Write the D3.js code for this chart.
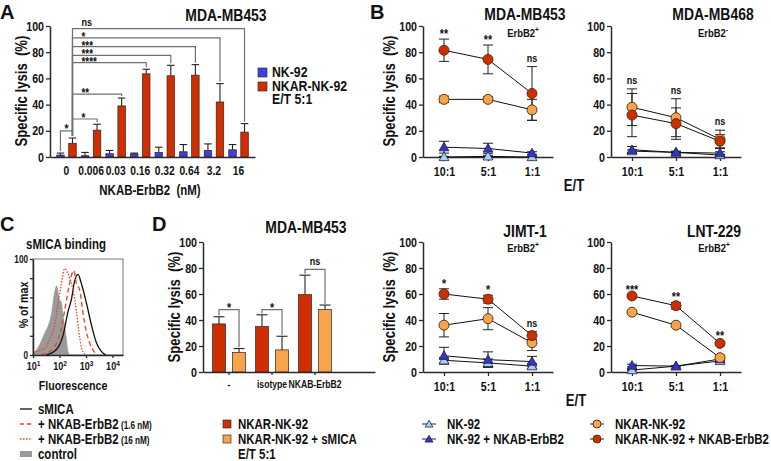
<!DOCTYPE html>
<html><head><meta charset="utf-8">
<script src="https://cdn.jsdelivr.net/npm/d3@7"></script>
<style>
body{margin:0;background:#fff}
svg{font-family:"Liberation Sans",Arial,Helvetica,sans-serif;font-weight:bold}
text{fill:#111}
</style></head><body>
<svg id="c" width="771" height="461"></svg>
<script>
// ---------------- DATA ----------------
// Panel A
const aGroups = ["0","0.006","0.03","0.16","0.32","0.64","3.2","16"];
const aSeries = ["NK-92","NKAR-NK-92"];
const aNK92 = [1.5,1,2.5,2.5,3.5,4,5,5.5];
const aNK92Err = [1.5,2.5,2.5,0.5,4,5.5,5,4];
const aNKAR = [10.5,20.5,39,63.5,62,62.5,42,19];
const aNKARErr = [4,4.5,6,3.5,8,8,14,6.5];
const aSigTargets = ["0.006","0.03","0.16","0.32","0.64","3.2","16"];
const aSigLabels = ["*","**","****","***","***","*","ns"];
const aSigLevels = [29,48,72,77.6,84.3,91,98];
const aSigBase = {label:"*", level:20};
const yTicks = [0,20,40,60,80,100];

// Line panels (E/T ratios)
const etRatios = ["10:1","5:1","1:1"];
const lineSeries = ["NK-92","NK-92 + NKAB-ErbB2","NKAR-NK-92","NKAR-NK-92 + NKAB-ErbB2"];
// MDA-MB453
const mb453NK = [0,0.5,0],      mb453NKErr = [0.5,0.5,0.5];
const mb453NKAB = [7.5,6.5,3],  mb453NKABErr = [4.5,4,1];
const mb453AR = [44,44,36],     mb453ARErr = [2.5,2,8];
const mb453ARAB = [81.5,74.5,48.5], mb453ARABErr = [8.5,11,20.5];
const mb453Sig = ["**","**","ns"];
// MDA-MB468
const mb468NK = [4.5,3.5,1.5],  mb468NKErr = [1,0.5,0.5];
const mb468NKAB = [5.5,3.5,3],  mb468NKABErr = [2.5,1,1];
const mb468AR = [38,30,13.5],   mb468ARErr = [14,14.5,7];
const mb468ARAB = [32,25.5,12], mb468ARABErr = [16.5,12,5];
const mb468Sig = ["ns","ns","ns"];
// JIMT-1
const jimtNK = [9,7,4.5],       jimtNKErr = [2,3,2];
const jimtNKAB = [12.5,9.5,8],  jimtNKABErr = [6.5,6,4];
const jimtAR = [36,41,22.5],    jimtARErr = [9,8.5,6];
const jimtARAB = [60,56,28],    jimtARABErr = [4,3,3];
const jimtSig = ["*","*","ns"];
// LNT-229
const lntNK = [1.5,4.5,8.5],    lntNKErr = [0.5,0.5,1];
const lntNKAB = [5,4.5,10],     lntNKABErr = [1,0.5,1];
const lntAR = [46,36,11],       lntARErr = [0.5,1,2];
const lntARAB = [58.5,51,22],   lntARABErr = [1,2.5,1.5];
const lntSig = ["***","**","**"];

// Panel C (fluorescence, % of max)
const cCtrlX = [10,18,28,37,50,66,78,98,117,138,174,209,245];
const cCtrlY = [1,11,23,30,43,66,72,58,55,40,21,4,0];
const c16X = [10,25,44,66,89,117,158,182,245,324,437,537,661,891];
const c16Y = [3,6,17,32,55,74,90,88,80,68,45,25,9,1];
const c1p6X = [20,30,44,102,158,209,282,347,437,575,759,1023,1445,2089,2818];
const c1p6Y = [0,2,4,21,47,66,83,88,74,68,45,25,11,3,0];
const cSmicaX = [32,78,138,209,282,372,501,661,1023,1585,2455,3715,5754];
const cSmicaY = [0,6,21,45,58,77,84,75,55,32,13,4,0];
const cXTicks = [10,100,1000,10000];
const cXExp = ["1","2","3","4"];

// Panel D
const dGroups = ["-","isotype","NKAB-ErbB2"];
const dSeries = ["NKAR-NK-92","NKAR-NK-92 + sMICA"];
const dNKAR = [37,35,59.5];
const dNKARErr = [5.5,9,15];
const dSMICA = [15,17,48];
const dSMICAErr = [3,10.5,3.5];
const dSigLabels = ["*","*","ns"];
const dSigLevels = [48,48,79];

// ---------------- STYLE ----------------
const C = {blue:"#3f3fe0", red:"#cf2e00", orange:"#f8a44c", lblue:"#a9cff0", dblue:"#3434c8",
           grey:"#9a9a9a", axis:"#2a2a2a", brk:"#707070", dashed:"#ee4422"};
const CONDENSE = 0.82;

const svg = d3.select("#c");

function styleAxis(g, fs){
  g.select(".domain").attr("stroke",C.axis).attr("stroke-width",1.5);
  g.selectAll(".tick line").attr("stroke",C.axis).attr("stroke-width",1.3);
  g.selectAll(".tick text").attr("fill","#111").attr("font-size",fs).attr("font-weight","bold")
   .attr("font-family",null);
}
function txt(x,y,s,fs,anchor){
  return svg.append("text").attr("x",x).attr("y",y).attr("font-size",fs)
    .attr("text-anchor",anchor||"start").text(s);
}
function yLabel(x,y,s,fs){
  svg.append("text").attr("transform",`translate(${x},${y}) rotate(-90)`)
    .attr("text-anchor","middle").attr("dy","0.35em").attr("font-size",fs)
    .style("white-space","pre").text(s);
}
function subtitle(x,y,sup){
  const t = svg.append("text").attr("x",x).attr("y",y).attr("font-size",11.5).attr("text-anchor","middle");
  t.append("tspan").text("ErbB2");
  t.append("tspan").attr("font-size",8).attr("dy",-4.5).text(sup);
}
function letter(x,y,s){ txt(x,y,s,20).classed("nc",true); }

// ---------------- PANEL A ----------------
letter(0,19,"A");
txt(226,21,"MDA-MB453",17,"middle");
const xA = d3.scaleBand().domain(aGroups).range([50,255]).paddingInner(0).paddingOuter(0.17);
const xA1 = d3.scaleBand().domain(aSeries).range([0,xA.bandwidth()]).paddingInner(0.375).paddingOuter(0.21);
const yA = d3.scaleLinear().domain([0,100]).range([157,26]);
const gA = svg.append("g");
const aVals = [aNK92,aNKAR], aErrs=[aNK92Err,aNKARErr], aCols=[C.blue,C.red];
aSeries.forEach((s,si)=>{
  const gs = gA.append("g");
  aGroups.forEach((g,i)=>{
    const x = xA(g)+xA1(s), w = xA1.bandwidth(), v=aVals[si][i], e=aErrs[si][i];
    gs.append("line").attr("x1",x+w/2).attr("x2",x+w/2).attr("y1",yA(v)).attr("y2",yA(v+e)).attr("stroke","#222").attr("stroke-width",1.1);
    gs.append("line").attr("x1",x).attr("x2",x+w).attr("y1",yA(v+e)).attr("y2",yA(v+e)).attr("stroke","#222").attr("stroke-width",1.1);
    gs.append("rect").attr("x",x).attr("y",yA(v)).attr("width",w).attr("height",yA(0)-yA(v))
      .attr("fill",aCols[si]).attr("stroke","#3a2020").attr("stroke-width",0.7);
  });
});
const gAy = gA.append("g").attr("transform","translate(50,0)")
  .call(d3.axisLeft(yA).tickValues(yTicks).tickSize(4).tickPadding(2).tickSizeOuter(0));
styleAxis(gAy,13);
const gAx = gA.append("g").attr("transform","translate(0,157)")
  .call(d3.axisBottom(xA).tickSize(0).tickPadding(9).tickSizeOuter(0));
styleAxis(gAx,12.5);
yLabel(21,91,"Specific lysis  (%)",16);
svg.append("text").attr("x",150).attr("y",195).attr("text-anchor","middle").attr("font-size",14)
  .style("white-space","pre").text("NKAB-ErbB2  (nM)");
// brackets
const redCx = g => xA(g)+xA1("NKAR-NK-92")+xA1.bandwidth()/2;
const blueCx = g => xA(g)+xA1("NK-92")+xA1.bandwidth()/2;
const redTop = g => { const i=aGroups.indexOf(g); return aNKAR[i]+aNKARErr[i]; };
const r0 = redCx("0");
aSigTargets.forEach((t,i)=>{
  const lv = aSigLevels[i];
  gA.append("path").attr("d",`M${r0},${yA(redTop("0")+1.5)}V${yA(lv)}H${redCx(t)}V${yA(redTop(t)+1.5)}`)
    .attr("fill","none").attr("stroke",C.brk).attr("stroke-width",1.2);
  const isNs = aSigLabels[i]==="ns";
  gA.append("text").attr("x",r0+9).attr("y",yA(lv)+(isNs?-2.5:3)).attr("font-size",isNs?11:12).text(aSigLabels[i]);
});
gA.append("path").attr("d",`M${blueCx("0")},${yA(aNK92[0]+aNK92Err[0]+1.5)}V${yA(aSigBase.level)}H${r0}V${yA(redTop("0")+1.5)}`)
  .attr("fill","none").attr("stroke",C.brk).attr("stroke-width",1.2);
gA.append("text").attr("x",(blueCx("0")+r0)/2).attr("y",yA(aSigBase.level)+2.5).attr("text-anchor","middle").attr("font-size",12.5).text(aSigBase.label);
// legend A
[[C.blue,"NK-92"],[C.red,"NKAR-NK-92"]].forEach((d,i)=>{
  svg.append("rect").attr("x",258).attr("y",68+i*14).attr("width",9).attr("height",9).attr("fill",d[0]).attr("stroke","#333").attr("stroke-width",0.7);
  txt(272,77+i*14,d[1],15);
});
txt(272,104,"E/T 5:1",15);

// ---------------- LINE PANELS ----------------
function drawMarker(g,cx,cy,shape,col,r){
  if(shape==="circ"){
    g.append("circle").attr("cx",cx).attr("cy",cy).attr("r",r).attr("fill",col).attr("stroke","#4a2a10").attr("stroke-width",0.9);
  } else {
    g.append("path").attr("d",d3.symbol(d3.symbolTriangle,r*r*1.7)()).attr("transform",`translate(${cx},${cy+0.8})`)
      .attr("fill",col).attr("stroke","#22224a").attr("stroke-width",0.8);
  }
}
function linePanel(ax, y0, y100, series, stars){
  const x = d3.scalePoint().domain(etRatios).range([ax, ax+130]).padding(0.477);
  const y = d3.scaleLinear().domain([0,100]).range([y0,y100]);
  const g = svg.append("g");
  const gy = g.append("g").attr("transform",`translate(${ax},0)`)
    .call(d3.axisLeft(y).tickValues(yTicks).tickSize(4).tickPadding(2).tickSizeOuter(0));
  styleAxis(gy,13);
  const gx = g.append("g").attr("transform",`translate(0,${y0})`)
    .call(d3.axisBottom(x).tickSize(4).tickPadding(6).tickSizeOuter(0));
  styleAxis(gx,13);
  const styles = [
    {col:C.lblue, shape:"tri"},{col:C.dblue, shape:"tri"},
    {col:C.orange, shape:"circ"},{col:C.red, shape:"circ"}];
  series.forEach(s=>{
    etRatios.forEach((r,i)=>{
      const cx=x(r), lo=y(Math.max(0,s.v[i]-s.e[i])), hi=y(s.v[i]+s.e[i]);
      g.append("line").attr("x1",cx).attr("x2",cx).attr("y1",lo).attr("y2",hi).attr("stroke","#222").attr("stroke-width",1);
      [lo,hi].forEach(yy=>g.append("line").attr("x1",cx-5).attr("x2",cx+5).attr("y1",yy).attr("y2",yy).attr("stroke","#222").attr("stroke-width",1));
    });
  });
  const line = d3.line().x((d,i)=>x(etRatios[i])).y(d=>y(d));
  series.forEach(s=>{
    g.append("path").attr("d",line(s.v)).attr("fill","none").attr("stroke","#111").attr("stroke-width",1);
  });
  series.forEach((s,si)=>{
    const st = styles[si];
    etRatios.forEach((r,i)=> drawMarker(g, x(r), y(s.v[i]), st.shape, st.col, 5));
  });
  etRatios.forEach((r,i)=>{
    const top = d3.max(series, s=>s.v[i]+s.e[i]);
    const isNs = stars[i]==="ns";
    g.append("text").attr("x",x(r)).attr("y",y(top)-(isNs?5:1)).attr("text-anchor","middle")
      .attr("font-size",isNs?11:13).text(stars[i]);
  });
}
const S = (v,e)=>({v,e});
letter(370,19,"B");
txt(525,20,"MDA-MB453",17,"middle"); subtitle(523,37,"+");
linePanel(423,157,26,[S(mb453NK,mb453NKErr),S(mb453NKAB,mb453NKABErr),S(mb453AR,mb453ARErr),S(mb453ARAB,mb453ARABErr)],mb453Sig);
yLabel(389,91,"Specific lysis  (%)",16);
txt(713,20,"MDA-MB468",17,"middle"); subtitle(713,37,"-");
linePanel(611,157,26,[S(mb468NK,mb468NKErr),S(mb468NKAB,mb468NKABErr),S(mb468AR,mb468ARErr),S(mb468ARAB,mb468ARABErr)],mb468Sig);
txt(574,191,"E/T",16,"middle");

txt(525,237,"JIMT-1",17,"middle"); subtitle(523,252,"+");
linePanel(423,372,242,[S(jimtNK,jimtNKErr),S(jimtNKAB,jimtNKABErr),S(jimtAR,jimtARErr),S(jimtARAB,jimtARABErr)],jimtSig);
yLabel(389,307,"Specific lysis  (%)",16);
txt(714,237,"LNT-229",17,"middle"); subtitle(714,252,"+");
linePanel(611,372,242,[S(lntNK,lntNKErr),S(lntNKAB,lntNKABErr),S(lntAR,lntARErr),S(lntARAB,lntARABErr)],lntSig);
txt(576,406,"E/T",16,"middle");

// ---------------- PANEL C ----------------
letter(0,231,"C");
txt(66,249,"sMICA binding",14,"middle");
const xC = d3.scaleLog().domain([10,25000]).range([33,123]);
const yC = d3.scaleLinear().domain([0,100]).range([355,259]);
const gC = svg.append("g");
gC.append("rect").attr("x",33).attr("y",259).attr("width",90).attr("height",96).attr("fill","none").attr("stroke","#555").attr("stroke-width",0.8);
const areaC = d3.area().x((d,i)=>xC(cCtrlX[i])).y0(yC(0)).y1(d=>yC(d)).curve(d3.curveMonotoneX);
gC.append("path").attr("d",areaC(cCtrlY)).attr("fill",C.grey).attr("stroke","#888").attr("stroke-width",0.5);
function hist(X,Y,col,dash,w){
  const l = d3.line().x((d,i)=>xC(X[i])).y(d=>yC(d)).curve(d3.curveMonotoneX);
  gC.append("path").attr("d",l(Y)).attr("fill","none").attr("stroke",col).attr("stroke-width",w).attr("stroke-dasharray",dash);
}
hist(cSmicaX,cSmicaY,"#111",null,1.3);
hist(c1p6X,c1p6Y,C.dashed,"5,3",1.3);
hist(c16X,c16Y,C.dashed,"1.5,1.5",1.3);
const gCy = gC.append("g").attr("transform","translate(33,0)")
  .call(d3.axisLeft(yC).tickValues(yTicks).tickSize(3).tickPadding(2).tickSizeOuter(0)
  .tickFormat(d=>(d===0||d===100)?d:""));
styleAxis(gCy,10);
const gCx = gC.append("g").attr("transform","translate(0,355)")
  .call(d3.axisBottom(xC).tickValues(cXTicks).tickSize(3).tickPadding(3).tickSizeOuter(0).tickFormat(""));
styleAxis(gCx,10);
gCx.selectAll(".tick").each(function(d,i){
  const t = d3.select(this).append("text").attr("y",15).attr("text-anchor","middle").attr("font-size",11).attr("fill","#111");
  t.append("tspan").text("10");
  t.append("tspan").attr("font-size",8).attr("dy",-4).text(cXExp[i]);
});
yLabel(23,305,"% of max",13);
txt(73,390,"Fluorescence",13,"middle");
// legend C
const cl = [{dash:null,col:"#111",t:"sMICA",s:""},{dash:"4,3",col:C.dashed,t:"+ NKAB-ErbB2",s:" (1.6 nM)"},{dash:"1.5,1.5",col:C.dashed,t:"+ NKAB-ErbB2",s:" (16 nM)"}];
cl.forEach((d,i)=>{
  const yy = 409+i*15;
  svg.append("line").attr("x1",20).attr("x2",32).attr("y1",yy).attr("y2",yy).attr("stroke",d.col).attr("stroke-width",1.3).attr("stroke-dasharray",d.dash);
  const t = txt(38,yy+5,d.t,14);
  if(d.s) t.append("tspan").attr("font-size",10).style("white-space","pre").text(d.s);
});
svg.append("rect").attr("x",20).attr("y",451).attr("width",12).attr("height",6).attr("fill",C.grey);
txt(38,459,"control",14);

// ---------------- PANEL D ----------------
letter(152,231,"D");
txt(306,233,"MDA-MB453",17,"middle");
const xD = d3.scaleBand().domain(dGroups).range([203,375]).paddingInner(0).paddingOuter(0.5).align(0.105);
const xD1 = d3.scaleBand().domain(dSeries).range([0,xD.bandwidth()]).paddingInner(0.35).paddingOuter(0.25);
const yD = d3.scaleLinear().domain([0,100]).range([372,242]);
const gD = svg.append("g");
const dVals=[dNKAR,dSMICA], dErrs=[dNKARErr,dSMICAErr], dCols=[C.red,C.orange];
dSeries.forEach((s,si)=>{
  dGroups.forEach((g,i)=>{
    const x=xD(g)+xD1(s), w=xD1.bandwidth(), v=dVals[si][i], e=dErrs[si][i];
    gD.append("line").attr("x1",x+w/2).attr("x2",x+w/2).attr("y1",yD(v)).attr("y2",yD(v+e)).attr("stroke","#222").attr("stroke-width",1.1);
    gD.append("line").attr("x1",x+1).attr("x2",x+w-1).attr("y1",yD(v+e)).attr("y2",yD(v+e)).attr("stroke","#222").attr("stroke-width",1.1);
    gD.append("rect").attr("x",x).attr("y",yD(v)).attr("width",w).attr("height",yD(0)-yD(v))
      .attr("fill",dCols[si]).attr("stroke","#3a2020").attr("stroke-width",0.7);
  });
});
const gDy = gD.append("g").attr("transform","translate(203,0)")
  .call(d3.axisLeft(yD).tickValues(yTicks).tickSize(4).tickPadding(2).tickSizeOuter(0));
styleAxis(gDy,13);
const gDx = gD.append("g").attr("transform","translate(0,372)")
  .call(d3.axisBottom(xD).tickSize(3).tickPadding(6).tickSizeOuter(0));
styleAxis(gDx,10.5);
yLabel(174,307,"Specific lysis  (%)",16);
dGroups.forEach((g,i)=>{
  const a = xD(g)+xD1(dSeries[0])+xD1.bandwidth()/2, b = xD(g)+xD1(dSeries[1])+xD1.bandwidth()/2;
  const lv = dSigLevels[i];
  gD.append("path").attr("d",`M${a},${yD(dNKAR[i]+dNKARErr[i]+1)}V${yD(lv)}H${b}V${yD(dSMICA[i]+dSMICAErr[i]+1)}`)
    .attr("fill","none").attr("stroke",C.brk).attr("stroke-width",1.2);
  const isNs = dSigLabels[i]==="ns";
  gD.append("text").attr("x",(a+b)/2).attr("y",yD(lv)+(isNs?-4:2)).attr("text-anchor","middle").attr("font-size",isNs?11:13).text(dSigLabels[i]);
});
// legend D
[[C.red,"NKAR-NK-92"],[C.orange,"NKAR-NK-92 + sMICA"]].forEach((d,i)=>{
  svg.append("rect").attr("x",223).attr("y",420+i*15).attr("width",8).attr("height",8).attr("fill",d[0]).attr("stroke","#333").attr("stroke-width",0.7);
  txt(238,429+i*15,d[1],14);
});
txt(238,459,"E/T 5:1",14);

// ---------------- LINE LEGEND ----------------
const lg = svg.append("g");
const lgItems = [
  {x:429, y:424, shape:"tri", col:C.lblue, t:lineSeries[0]},
  {x:429, y:439, shape:"tri", col:C.dblue, t:lineSeries[1]},
  {x:597, y:424, shape:"circ", col:C.orange, t:lineSeries[2]},
  {x:597, y:439, shape:"circ", col:C.red, t:lineSeries[3]}];
lgItems.forEach(d=>{
  lg.append("line").attr("x1",d.x-7).attr("x2",d.x+7).attr("y1",d.y).attr("y2",d.y).attr("stroke","#222").attr("stroke-width",1);
  drawMarker(lg,d.x,d.y,d.shape,d.col,4);
  lg.append("text").attr("x",d.x+18).attr("y",d.y+5).attr("font-size",14).text(d.t);
});

// ---------------- condensed lettering (the figure uses a narrow bold face) ----------------
svg.selectAll("text:not(.nc)").each(function(){
  const t = d3.select(this), tr = t.attr("transform");
  if(tr){ t.attr("transform", tr+` scale(${CONDENSE},1)`); }
  else { const x = +t.attr("x")||0; t.attr("transform",`translate(${x},0) scale(${CONDENSE},1) translate(${-x},0)`); }
});
</script>
</body></html>
